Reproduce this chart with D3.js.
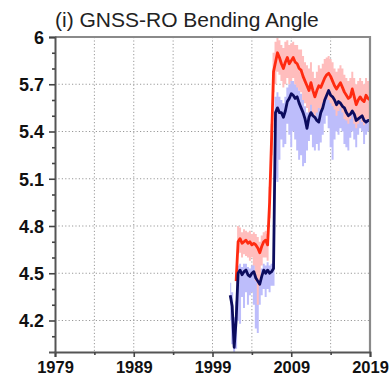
<!DOCTYPE html>
<html>
<head>
<meta charset="utf-8">
<script src="https://d3js.org/d3.v7.min.js"></script>
<style>
  body { margin: 0; background: #fff; }
  svg { display: block; font-family: "Liberation Sans", Arial, Helvetica, sans-serif; }
  .grid line { stroke: #999; stroke-width: 1; stroke-dasharray: 1.2,2.2; }
  .tick text { font-weight: bold; fill: #111; }
</style>
</head>
<body>
<div id="chart"></div>
<script>
// time axis, quarterly steps 2001.25 .. 2019.0
const years = [
  2001.25, 2001.5, 2001.75,
  2002.0, 2002.25, 2002.5, 2002.75,
  2003.0, 2003.25, 2003.5, 2003.75,
  2004.0, 2004.25, 2004.5, 2004.75,
  2005.0, 2005.25, 2005.5, 2005.75,
  2006.0, 2006.25, 2006.5, 2006.75,
  2007.0, 2007.25, 2007.5, 2007.75,
  2008.0, 2008.25, 2008.5, 2008.75,
  2009.0, 2009.25, 2009.5, 2009.75,
  2010.0, 2010.25, 2010.5, 2010.75,
  2011.0, 2011.25, 2011.5, 2011.75,
  2012.0, 2012.25, 2012.5, 2012.75,
  2013.0, 2013.25, 2013.5, 2013.75,
  2014.0, 2014.25, 2014.5, 2014.75,
  2015.0, 2015.25, 2015.5, 2015.75,
  2016.0, 2016.25, 2016.5, 2016.75,
  2017.0, 2017.25, 2017.5, 2017.75,
  2018.0, 2018.25, 2018.5, 2018.75,
  2019.0
];

// dark blue series
const navyLine = [
  4.36, 4.29, 4.03,
  4.20, 4.50, 4.52, 4.49,
  4.51, 4.52, 4.49, 4.48,
  4.50, 4.51, 4.47, 4.45,
  4.43, 4.48, 4.52, 4.50,
  4.52, 4.50, 4.51, 4.53,
  5.52, 5.55, 5.52, 5.52,
  5.49, 5.53, 5.59, 5.61,
  5.64, 5.63, 5.61, 5.62,
  5.58, 5.55, 5.52, 5.48,
  5.42, 5.49, 5.52, 5.50,
  5.49, 5.47, 5.46, 5.52,
  5.55, 5.60, 5.63, 5.66,
  5.63, 5.62, 5.60, 5.57,
  5.59, 5.58, 5.56, 5.55,
  5.52, 5.50, 5.51, 5.53,
  5.51, 5.47, 5.48, 5.49,
  5.50, 5.47, 5.46, 5.47,
  5.47
];
const navyHi = [
  4.44, 4.38, 4.22,
  4.32, 4.55, 4.56, 4.54,
  4.56, 4.56, 4.54, 4.53,
  4.55, 4.56, 4.52, 4.50,
  4.48, 4.53, 4.56, 4.55,
  4.57, 4.55, 4.56, 4.58,
  5.62, 5.65, 5.62, 5.60,
  5.58, 5.62, 5.68, 5.70,
  5.72, 5.72, 5.70, 5.70,
  5.66, 5.64, 5.60, 5.56,
  5.52, 5.58, 5.60, 5.58,
  5.58, 5.56, 5.55, 5.60,
  5.64, 5.68, 5.72, 5.74,
  5.72, 5.70, 5.68, 5.66,
  5.68, 5.66, 5.64, 5.63,
  5.60, 5.58, 5.60, 5.62,
  5.60, 5.56, 5.57, 5.58,
  5.58, 5.56, 5.55, 5.56,
  5.56
];
const navyLo = [
  4.20, 4.05, 3.98,
  4.02, 4.20, 4.18, 4.35,
  4.28, 4.38, 4.30, 4.36,
  4.38, 4.30, 4.15, 4.12,
  4.30, 4.36, 4.40, 4.35,
  4.40, 4.38, 4.42, 4.42,
  5.10, 5.08, 5.22, 5.35,
  5.30, 5.32, 5.45, 5.38,
  5.30, 5.40, 5.35, 5.28,
  5.22, 5.25, 5.18, 5.20,
  5.28, 5.34, 5.38, 5.30,
  5.28, 5.32, 5.28, 5.33,
  5.38, 5.45, 5.50, 5.42,
  5.30, 5.22, 5.35, 5.40,
  5.38, 5.42, 5.40, 5.32,
  5.30, 5.28, 5.36, 5.40,
  5.35, 5.30, 5.38, 5.42,
  5.40, 5.32, 5.38, 5.40,
  5.42
];

// red series (starts 2002)
const redLine = [
  null, null, null,
  4.45, 4.70, 4.72, 4.69,
  4.70, 4.71, 4.69, 4.70,
  4.68, 4.69, 4.68, 4.66,
  4.63, 4.67, 4.70, 4.71,
  4.68, 4.95, 5.35, 5.78,
  5.84, 5.90, 5.87, 5.83,
  5.80, 5.84, 5.87, 5.83,
  5.85, 5.87, 5.84, 5.83,
  5.80, 5.79, 5.75, 5.72,
  5.69, 5.66, 5.71, 5.66,
  5.62, 5.66, 5.69, 5.68,
  5.71, 5.74, 5.76, 5.77,
  5.75, 5.72, 5.69, 5.67,
  5.69, 5.71, 5.68, 5.65,
  5.63, 5.61, 5.62, 5.67,
  5.62, 5.57, 5.60, 5.62,
  5.60, 5.59, 5.63, 5.61,
  5.60
];
const redHi = [
  null, null, null,
  4.50, 4.80, 4.79, 4.76,
  4.78, 4.77, 4.76, 4.77,
  4.75, 4.76, 4.75, 4.73,
  4.70, 4.74, 4.76, 4.77,
  4.75, 5.05, 5.45, 5.90,
  5.97, 6.00, 5.98, 5.95,
  5.93, 5.97, 5.98, 5.95,
  5.96, 5.97, 5.95, 5.95,
  5.92, 5.92, 5.88, 5.84,
  5.82, 5.80, 5.84, 5.78,
  5.74, 5.78, 5.82, 5.80,
  5.83, 5.86, 5.87, 5.88,
  5.86, 5.84, 5.80, 5.78,
  5.80, 5.82, 5.80, 5.76,
  5.74, 5.72, 5.74, 5.78,
  5.74, 5.70, 5.72, 5.74,
  5.72, 5.70, 5.74, 5.72,
  5.72
];
const redLo = [
  null, null, null,
  4.35, 4.62, 4.63, 4.60,
  4.62, 4.61, 4.60, 4.58,
  4.60, 4.55, 4.45, 4.30,
  4.42, 4.55, 4.60, 4.60,
  4.58, 4.85, 5.25, 5.65,
  5.70, 5.78, 5.76, 5.72,
  5.68, 5.70, 5.74, 5.70,
  5.72, 5.74, 5.70, 5.68,
  5.66, 5.65, 5.60, 5.58,
  5.55, 5.52, 5.57, 5.52,
  5.48, 5.52, 5.55, 5.54,
  5.58, 5.60, 5.62, 5.60,
  5.58, 5.56, 5.54, 5.50,
  5.53, 5.55, 5.52, 5.48,
  5.47, 5.45, 5.48, 5.52,
  5.45, 5.42, 5.45, 5.48,
  5.46, 5.44, 5.48, 5.46,
  5.46
];

// axis ticks
const xLabels = [1979, 1989, 1999, 2009, 2019];
const xMinor = [1984, 1994, 2004, 2014];
const xGrid = [1984, 1989, 1994, 1999, 2004, 2009, 2014];
const yLabels = [4.2, 4.5, 4.8, 5.1, 5.4, 5.7, 6];
const yMinor = [4.1, 4.3, 4.4, 4.6, 4.7, 4.9, 5.0, 5.2, 5.3, 5.5, 5.6, 5.8, 5.9];

let margin = {top: 37, right: 21, bottom: 23, left: 55};
let W = 391, H = 375;
let width = W - margin.left - margin.right;
let height = H - margin.top - margin.bottom;

const svg = d3.select("#chart").append("svg")
    .attr("width", W)
    .attr("height", H);

const g = svg.append("g")
    .attr("transform", "translate(" + margin.left + "," + margin.top + ")");

const x = d3.scaleLinear().domain([1979, 2019]).range([0, width]);
const y = d3.scaleLinear().domain([4.0, 6.0]).range([height, 0]);

// clip to plot box
svg.append("defs").append("clipPath").attr("id", "clip")
  .append("rect").attr("width", width).attr("height", height);

// grid lines
const grid = g.append("g").attr("class", "grid");
grid.selectAll("line.v").data(xGrid).enter().append("line")
    .attr("class", "v")
    .attr("x1", d => x(d)).attr("x2", d => x(d))
    .attr("y1", 0).attr("y2", height);
grid.selectAll("line.h").data(yLabels.filter(d => d < 6)).enter().append("line")
    .attr("class", "h")
    .attr("y1", d => y(d)).attr("y2", d => y(d))
    .attr("x1", 0).attr("x2", width);

// build row objects
const rows = years.map((t, i) => ({
  t: t,
  navy: navyLine[i], navyHi: navyHi[i], navyLo: navyLo[i],
  red: redLine[i], redHi: redHi[i], redLo: redLo[i]
}));

const plot = g.append("g").attr("clip-path", "url(#clip)");

const navyBand = d3.area()
    .curve(d3.curveStep)
    .x(d => x(d.t))
    .y0(d => y(d.navyLo))
    .y1(d => y(d.navyHi));

const redBand = d3.area()
    .defined(d => d.red != null)
    .curve(d3.curveStep)
    .x(d => x(d.t))
    .y0(d => y(d.redLo))
    .y1(d => y(d.redHi));

plot.append("path").datum(rows)
    .attr("d", navyBand)
    .attr("fill", "#bdbdfb");

plot.append("path").datum(rows)
    .attr("d", redBand)
    .attr("fill", "#ffbdbd");

const redPath = d3.line()
    .defined(d => d.red != null)
    .x(d => x(d.t))
    .y(d => y(d.red));

const navyPath = d3.line()
    .x(d => x(d.t))
    .y(d => y(d.navy));

plot.append("path").datum(rows)
    .attr("d", redPath)
    .attr("fill", "none")
    .attr("stroke", "#ff2a10")
    .attr("stroke-width", 2.8)
    .attr("stroke-linejoin", "round");

plot.append("path").datum(rows)
    .attr("d", navyPath)
    .attr("fill", "none")
    .attr("stroke", "#0c0c5e")
    .attr("stroke-width", 2.8)
    .attr("stroke-linejoin", "round");

// top and right frame
g.append("path")
    .attr("d", "M0,0H" + width + "V" + height)
    .attr("fill", "none")
    .attr("stroke", "#8a8a8a")
    .attr("stroke-width", 2.2);

// x axis
const xAxis = g.append("g")
    .attr("transform", "translate(0," + height + ")")
    .call(d3.axisBottom(x).tickValues(xLabels).tickFormat(d3.format("d")).tickSize(5))
    .style("font-size", "16.5px");
g.append("g")
    .attr("transform", "translate(0," + height + ")")
    .call(d3.axisBottom(x).tickValues(xMinor).tickFormat("").tickSize(3))
    .call(a => a.select(".domain").remove());

// y axis
const yAxis = g.append("g")
    .call(d3.axisLeft(y).tickValues(yLabels).tickFormat(d => d === 6 ? "6" : d3.format(".1f")(d)).tickSize(6).tickPadding(5))
    .style("font-size", "18px");
g.append("g")
    .call(d3.axisLeft(y).tickValues(yMinor).tickFormat("").tickSize(3))
    .call(a => a.select(".domain").remove());

g.selectAll(".domain").attr("stroke", "#555").attr("stroke-width", 2);
g.selectAll(".tick line").attr("stroke", "#444").attr("stroke-width", 1.6);
// keep the year labels just inside the bottom edge
xAxis.selectAll("text").attr("y", 21).attr("dy", 0);
yAxis.selectAll("text").attr("dy", "0.36em");

// title
svg.append("text")
    .attr("x", 55)
    .attr("y", 27)
    .attr("font-size", "21px")
    .attr("fill", "#222")
    .text("(i) GNSS-RO Bending Angle");
</script>
</body>
</html>
